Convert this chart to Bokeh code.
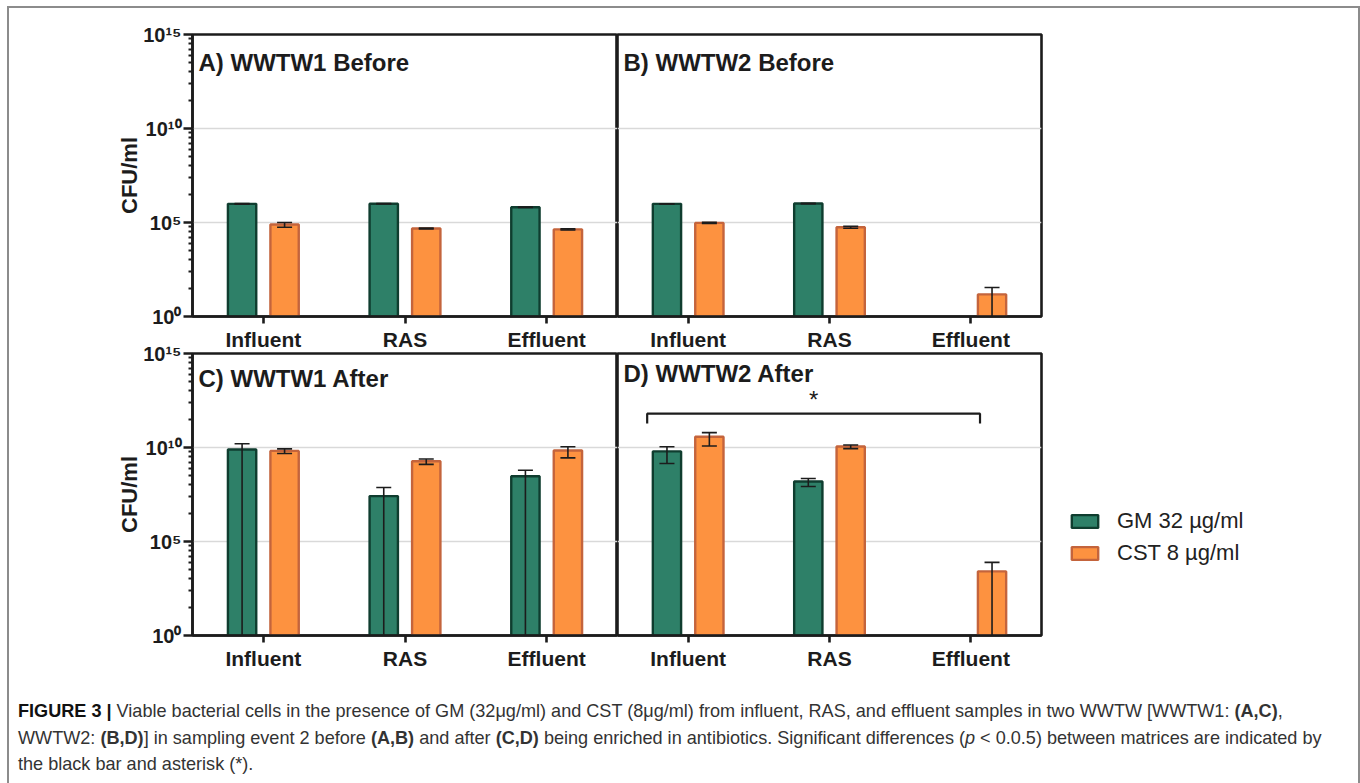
import numpy as np
from bokeh.plotting import figure
from bokeh.models import (ColumnDataSource, FactorRange, Range1d, FixedTicker, Whisker,
                          TeeHead, Label, Legend, LegendItem, Div)
from bokeh.layouts import column, row
from bokeh.transform import dodge
from bokeh.embed import file_html
from bokeh.resources import INLINE

# ---------------------------------------------------------------- data
sites = ["Influent", "RAS", "Effluent"]
series_names = ["GM 32 µg/ml", "CST 8 µg/ml"]

# mean CFU/ml and standard deviation, per treatment works and sampling stage
a_gm_mean = [9.8e5, 1.0e6, 6.5e5]
a_gm_sd = [3.0e4, 1.5e4, 2.0e4]
a_cst_mean = [7.8e4, 4.8e4, 4.3e4]
a_cst_sd = [2.2e4, 2.5e3, 3.0e3]

b_gm_mean = [9.8e5, 1.02e6, np.nan]
b_gm_sd = [2.0e4, 2.0e4, np.nan]
b_cst_mean = [9.5e4, 5.6e4, 15.0]
b_cst_sd = [7.0e3, 7.0e3, 20.0]

c_gm_mean = [7.8e9, 2.6e7, 2.95e8]
c_gm_sd = [8.0e9, 4.8e7, 3.2e8]
c_cst_mean = [6.6e9, 1.86e9, 6.9e9]
c_cst_sd = [1.8e9, 0.6e9, 4.1e9]

d_gm_mean = [6.2e9, 1.55e8, np.nan]
d_gm_sd = [4.8e9, 7.0e7, np.nan]
d_cst_mean = [3.7e10, 1.12e10, 2.57e3]
d_cst_sd = [2.5e10, 2.5e9, 5.2e3]

# y axis: CFU/ml, log scale
y_ticks = [1, 10**5, 10**10, 10**15]
y_tick_labels = ["10⁰", "10⁵", "10¹⁰", "10¹⁵"]

# significance bracket in panel D
sig_pair = ("Influent", "Effluent")
sig_level = 10**11.8
sig_leg = 10**11.28

caption_html = (
    '<b style="color:#111">FIGURE 3 |</b> Viable bacterial cells in the presence of GM (32μg/ml) and CST '
    '(8μg/ml) from influent, RAS, and effluent samples in two WWTW [WWTW1: <b>(A,C)</b>,<br>'
    'WWTW2: <b>(B,D)</b>] in sampling event 2 before <b>(A,B)</b> and after <b>(C,D)</b> being '
    'enriched in antibiotics. Significant differences (<i>p</i> &lt; 0.0.5) between matrices are '
    'indicated by<br>the black bar and asterisk (*).'
)

# ---------------------------------------------------------------- style
GREEN, GREEN_EDGE = "#2e8068", "#0f3d2f"
ORANGE, ORANGE_EDGE = "#fd9240", "#c4643c"
INK = "#1c1c1c"
FONT = "Liberation Sans"
OFFSET = 0.15
BAR_W = 0.2

minor = [10 ** (5 * j + 5 * np.log10(k)) for j in range(3) for k in range(2, 10)]


def add_whiskers(p, mean, sd, offset):
    m = np.asarray(mean, dtype=float)
    s = np.asarray(sd, dtype=float)
    ok = ~np.isnan(m)
    lo = m - s
    hi = m + s
    capped = ok & (lo > 0)
    to_floor = ok & (lo <= 0)
    for mask, low_head in ((capped, True), (to_floor, False)):
        if not mask.any():
            continue
        src = ColumnDataSource(dict(
            site=[c for c, k in zip(sites, mask) if k],
            lower=np.where(lo[mask] > 0, lo[mask], y_ticks[0]),
            upper=hi[mask],
        ))
        w = Whisker(source=src, base=dodge("site", offset, range=p.x_range),
                    lower="lower", upper="upper", line_color=INK, line_width=1.6,
                    upper_head=TeeHead(size=15, line_color=INK, line_width=1.6),
                    lower_head=TeeHead(size=15, line_color=INK, line_width=1.6) if low_head else None,
                    level="annotation")
        p.add_layout(w)


def make_panel(title, gm_mean, gm_sd, cst_mean, cst_sd, width, height,
               left, right, top, bottom, show_y, title_drop):
    p = figure(x_range=FactorRange(*sites), y_range=Range1d(y_ticks[0], y_ticks[-1]),
               y_axis_type="log", width=width, height=height,
               min_border_left=left, min_border_right=right,
               min_border_top=top, min_border_bottom=bottom,
               output_backend="svg", toolbar_location=None,
               border_fill_color=None, background_fill_color="white")
    p.outline_line_color = INK
    p.outline_line_width = 2.6
    p.outline_line_alpha = 1.0

    src = ColumnDataSource(dict(site=sites, gm=gm_mean, cst=cst_mean))
    p.vbar(x=dodge("site", -OFFSET, range=p.x_range), bottom=y_ticks[0], top="gm",
           width=BAR_W, source=src, fill_color=GREEN, line_color=GREEN_EDGE, line_width=2.4)
    p.vbar(x=dodge("site", OFFSET, range=p.x_range), bottom=y_ticks[0], top="cst",
           width=BAR_W, source=src, fill_color=ORANGE, line_color=ORANGE_EDGE, line_width=2.4)
    add_whiskers(p, gm_mean, gm_sd, -OFFSET)
    add_whiskers(p, cst_mean, cst_sd, OFFSET)

    # x axis
    xa = p.xaxis[0]
    xa.axis_line_width = 2.6
    xa.axis_line_color = INK
    xa.major_tick_line_width = 2.6
    xa.major_tick_line_color = INK
    xa.major_tick_out = 7
    xa.major_tick_in = 0
    xa.minor_tick_line_color = None
    xa.major_label_text_font = FONT
    xa.major_label_text_font_style = "bold"
    xa.major_label_text_font_size = "21px"
    xa.major_label_text_color = INK
    xa.major_label_standoff = 4
    p.xgrid.visible = False

    # y axis
    ya = p.yaxis[0]
    ya.ticker = FixedTicker(ticks=y_ticks, minor_ticks=minor)
    ya.major_label_overrides = dict(zip(y_ticks, y_tick_labels))
    ya.axis_line_width = 2.6
    ya.axis_line_color = INK
    ya.major_tick_line_width = 2.6
    ya.major_tick_line_color = INK
    ya.major_tick_out = 9
    ya.major_tick_in = 0
    ya.minor_tick_line_width = 2
    ya.minor_tick_line_color = INK
    ya.minor_tick_out = 4
    ya.minor_tick_in = 0
    ya.major_label_text_font = FONT
    ya.major_label_text_font_style = "bold"
    ya.major_label_text_font_size = "20px"
    ya.major_label_text_color = INK
    ya.major_label_standoff = 2
    ya.axis_label = "CFU/ml"
    ya.axis_label_text_font = FONT
    ya.axis_label_text_font_style = "bold"
    ya.axis_label_text_font_size = "22px"
    ya.axis_label_text_color = INK
    ya.axis_label_standoff = -2
    ya.visible = show_y
    p.ygrid.ticker = FixedTicker(ticks=y_ticks[1:-1])
    p.ygrid.grid_line_color = "#d9d9d9"
    p.ygrid.grid_line_width = 1.6

    p.add_layout(Label(x=0, y=y_ticks[-1], x_offset=6, y_offset=-title_drop, text=title,
                       text_font=FONT, text_font_style="bold", text_font_size="24px",
                       text_color=INK, text_baseline="middle"))
    return p


pA = make_panel("A) WWTW1 Before", a_gm_mean, a_gm_sd, a_cst_mean, a_cst_sd,
                608, 352, 183, 0, 26, 44, True, 28)
pB = make_panel("B) WWTW2 Before", b_gm_mean, b_gm_sd, b_cst_mean, b_cst_sd,
                428, 352, 0, 4, 26, 44, False, 28)
pC = make_panel("C) WWTW1 After", c_gm_mean, c_gm_sd, c_cst_mean, c_cst_sd,
                608, 345, 183, 0, 23, 40, True, 25)
pD = make_panel("D) WWTW2 After", d_gm_mean, d_gm_sd, d_cst_mean, d_cst_sd,
                428, 345, 0, 4, 23, 40, False, 20)

# significance bracket and asterisk
x_l = sites.index(sig_pair[0]) + 0.5 - 0.29
x_r = sites.index(sig_pair[1]) + 0.5 + 0.065
pD.multi_line(xs=[[x_l, x_l, x_r, x_r]], ys=[[sig_leg, sig_level, sig_level, sig_leg]],
              line_color=INK, line_width=2.2)
pD.add_layout(Label(x=(x_l + x_r) / 2, y=sig_level, y_offset=14, text="*",
                    text_font=FONT, text_font_size="24px", text_color=INK,
                    text_align="center", text_baseline="middle"))

# legend panel: key renderers carry the bar styling but hold no drawable rows
pL = figure(width=313, height=345, x_range=Range1d(0, 1), y_range=Range1d(0, 1),
            min_border=0, output_backend="svg", toolbar_location=None,
            border_fill_color=None, background_fill_color=None, outline_line_color=None)
pL.axis.visible = False
pL.grid.visible = False
key_src = ColumnDataSource(dict(x=[np.nan], top=[np.nan]))
kg = pL.vbar(x="x", bottom=0, top="top", width=0.1, source=key_src,
             fill_color=GREEN, line_color=GREEN_EDGE, line_width=2.4)
ko = pL.vbar(x="x", bottom=0, top="top", width=0.1, source=key_src,
             fill_color=ORANGE, line_color=ORANGE_EDGE, line_width=2.4)
legend = Legend(items=[LegendItem(label=series_names[0], renderers=[kg]),
                       LegendItem(label=series_names[1], renderers=[ko])],
                location=(23, 69), glyph_width=33, glyph_height=16, label_standoff=16,
                spacing=6, padding=0, margin=0, border_line_color=None,
                background_fill_alpha=0, label_text_font=FONT, label_text_font_size="22px",
                label_text_color="#222222")
pL.add_layout(legend)

caption = Div(text=caption_html, width=1330, height=95, margin=(23, 0, 0, 9),
              styles={"font-family": FONT, "font-size": "18.1px", "line-height": "26.5px",
                      "color": "#333333", "white-space": "nowrap"})

top_row = row(pA, pB)
bottom_row = row(pC, pD, pL, margin=(-30, 0, 0, 0))
root = column(top_row, bottom_row, caption, margin=(6, 0, 0, 7),
              styles={"border": "2px solid #8c8c8c"})

open("out.html", "w").write(file_html(root, INLINE, title="CFU/ml"))
